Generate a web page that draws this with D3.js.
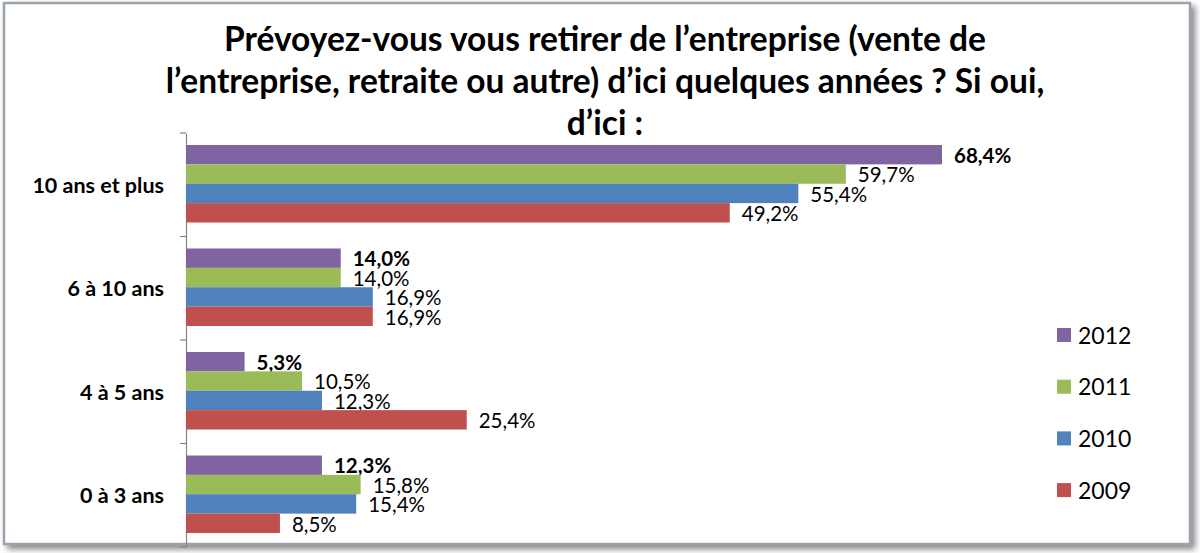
<!DOCTYPE html>
<html>
<head>
<meta charset="utf-8">
<script src="https://cdn.jsdelivr.net/npm/d3@7"></script>
<style>
  body { margin: 0; background: #fff; }
  svg { display: block; font-family: Lato, "Open Sans", sans-serif; }
</style>
</head>
<body>
<div id="chart"></div>
<script>
// categories top to bottom
const categories = ["10 ans et plus", "6 à 10 ans", "4 à 5 ans", "0 à 3 ans"];
const years = ["2012", "2011", "2010", "2009"];
const v2012 = [68.4, 14.0, 5.3, 12.3];
const v2011 = [59.7, 14.0, 10.5, 15.8];
const v2010 = [55.4, 16.9, 12.3, 15.4];
const v2009 = [49.2, 16.9, 25.4, 8.5];
const colors = ["#8064a2", "#9bbb59", "#4f81bd", "#c0504d"];
const titleLines = [
    "Prévoyez-vous vous retirer de l’entreprise (vente de",
    "l’entreprise, retraite ou autre) d’ici quelques années ? Si oui,",
    "d’ici :"
];

const width = 1200, height = 553;
const margin = { top: 133, left: 186, bottom: 6 };
const series = [v2012, v2011, v2010, v2009];

const svg = d3.select("#chart").append("svg")
    .attr("width", width)
    .attr("height", height);

// frame with shadow
const defs = svg.append("defs");
const f = defs.append("filter").attr("id", "shadow")
    .attr("x", "-5%").attr("y", "-5%").attr("width", "110%").attr("height", "115%");
f.append("feDropShadow").attr("dx", 4).attr("dy", 4).attr("stdDeviation", 3)
    .attr("flood-color", "#555").attr("flood-opacity", 0.7);

svg.append("rect")
    .attr("x", 4).attr("y", 3)
    .attr("width", 1186).attr("height", 541)
    .attr("fill", "#fff")
    .attr("stroke", "#9aa3ad")
    .attr("stroke-width", 2.5)
    .attr("filter", "url(#shadow)");

// title
svg.append("g").selectAll("text")
    .data(titleLines)
    .enter().append("text")
    .attr("x", 605)
    .attr("y", (d, i) => 51 + i * 42)
    .attr("text-anchor", "middle")
    .attr("font-size", 33.5)
    .attr("font-weight", "bold")
    .attr("fill", "#000")
    .text(d => d);

// scales
const y = d3.scaleBand()
    .domain(categories)
    .range([margin.top, 547])
    .paddingInner(0)
    .paddingOuter(0);

const x = d3.scaleLinear()
    .domain([0, 68.4])
    .range([margin.left, 942]);

const inner = d3.scaleBand()
    .domain(years)
    .range([12, y.bandwidth() - 14]);

// axis
const axis = svg.append("g")
    .attr("transform", "translate(" + margin.left + ",0)")
    .call(d3.axisLeft(y).tickSize(0).tickFormat(""));
axis.select(".domain").attr("stroke", "#868686").attr("stroke-width", 1.2);

// tick marks on band boundaries
svg.append("g").selectAll("line")
    .data(categories.concat(["end"]))
    .enter().append("line")
    .attr("x1", margin.left - 6).attr("x2", margin.left)
    .attr("y1", (d, i) => margin.top + i * y.bandwidth())
    .attr("y2", (d, i) => margin.top + i * y.bandwidth())
    .attr("stroke", "#868686").attr("stroke-width", 1.2);

// category labels
svg.append("g").selectAll("text")
    .data(categories)
    .enter().append("text")
    .attr("x", 164)
    .attr("y", d => y(d) + y.bandwidth() / 2 + 8)
    .attr("text-anchor", "end")
    .attr("font-size", 21.5)
    .attr("font-weight", "bold")
    .text(d => d);

// bars
categories.forEach((cat, ci) => {
    const g = svg.append("g").attr("transform", "translate(0," + y(cat) + ")");
    years.forEach((yr, si) => {
        const val = series[si][ci];
        g.append("rect")
            .attr("x", x(0))
            .attr("y", inner(yr))
            .attr("width", x(val) - x(0))
            .attr("height", inner.bandwidth())
            .attr("fill", colors[si]);
        g.append("text")
            .attr("x", x(val) + 12)
            .attr("y", inner(yr) + inner.bandwidth() - 1.5)
            .attr("font-size", 20.5)
            .attr("font-weight", si === 0 ? "bold" : "normal")
            .attr("fill", "#000")
            .text(val.toFixed(1).replace(".", ",") + "%");
    });
});

// legend
const legend = svg.append("g").selectAll("g")
    .data(years)
    .enter().append("g")
    .attr("transform", (d, i) => "translate(1057," + (328 + i * 51.7) + ")");
legend.append("rect")
    .attr("width", 14).attr("height", 14)
    .attr("fill", (d, i) => colors[i]);
legend.append("text")
    .attr("x", 21).attr("y", 15.5)
    .attr("font-size", 23)
    .text(d => d);
</script>
</body>
</html>
